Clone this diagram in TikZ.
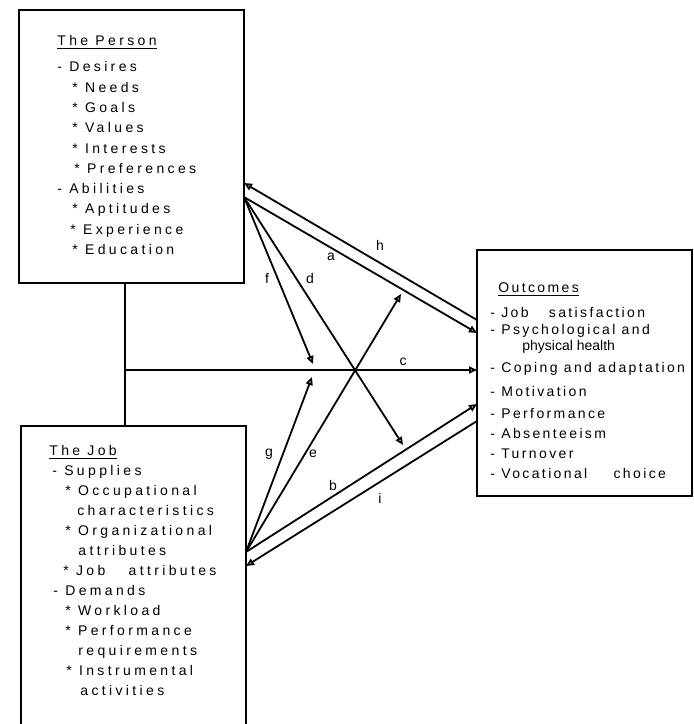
\documentclass[tikz,border=0pt]{standalone}
\usepackage{fontspec}
\setmainfont{Liberation Sans}
\newfontfamily\widefont[LetterSpace=24]{Liberation Sans}
\newfontfamily\outfont[LetterSpace=17]{Liberation Sans}
\usetikzlibrary{arrows.meta}

\begin{document}
\begin{tikzpicture}[
    x=0.5pt, y=-0.5pt,
    >={Triangle[open, length=4pt, width=3.5pt]},
    box/.style={draw, line width=1pt, inner sep=0pt, outer sep=0pt},
    txt/.style={anchor=north west, inner sep=0pt, align=left},
    lbl/.style={inner sep=0pt, font=\fontsize{7}{8}\selectfont},
    arr/.style={->, line width=0.9pt}
  ]
  \useasboundingbox (0,0) rectangle (694,724);

  % the three boxes
  \node[box, minimum width=112.5pt, minimum height=136.5pt] (person) at (131.5,146.5) {};
  \node[box, minimum width=112.5pt, minimum height=157pt] (job) at (133.5,583) {};
  \node[box, minimum width=107.5pt, minimum height=123pt] (outcomes) at (584.5,373) {};

  \node[txt, font=\widefont\fontsize{7}{10.15}\selectfont] (persontext) at (57,35) {%
    \underline{The Person}\\[3pt]
    - Desires\\
    \hspace*{7.5pt}* Needs\\
    \hspace*{7.5pt}* Goals\\
    \hspace*{7.5pt}* Values\\
    \hspace*{7.5pt}* Interests\\
    \hspace*{8.5pt}* Preferences\\
    - Abilities\\
    \hspace*{7.5pt}* Aptitudes\\
    \hspace*{6.5pt}* Experience\\
    \hspace*{7.5pt}* Education};

  \node[txt, font=\widefont\fontsize{7}{10}\selectfont] (jobtext) at (49,445) {%
    \underline{The Job}\\
    \hspace*{1.5pt}- Supplies\\
    \hspace*{8pt}* Occupational\\
    \hspace*{14pt}characteristics\\
    \hspace*{8pt}* Organizational\\
    \hspace*{14.5pt}attributes\\
    \hspace*{7pt}* Job\hspace{8pt} attributes\\
    \hspace*{2pt}- Demands\\
    \hspace*{8pt}* Workload\\
    \hspace*{8pt}* Performance\\
    \hspace*{14.5pt}requirements\\
    \hspace*{8.5pt}* Instrumental\\
    \hspace*{15.5pt}activities};

  \node[txt, font=\outfont\fontsize{7}{10}\selectfont] (outtext) at (490,282) {%
    \hspace*{4pt}\underline{Outcomes}\\[2.5pt]
    - Job\hspace{7pt} satisfaction\\[-1.5pt]
    - Psychological and\\[-2pt]
    \hspace*{16pt}{\normalfont physical health}\\[1pt]
    - Coping and adaptation\\[2pt]
    - Motivation\\[1pt]
    - Performance\\
    - Absenteeism\\
    - Turnover\\
    - Vocational\hspace{10pt} choice};

  % end points on the box edges
  \coordinate (pbot) at (125,283);
  \coordinate (jtop) at (125,426);
  \coordinate (cfrom) at (125,370);
  \coordinate (pfrom) at (244,197);
  \coordinate (pin) at (244,183);
  \coordinate (jfrom) at (246,552);
  \coordinate (jin) at (246,566);
  \coordinate (ohout) at (477,320);
  \coordinate (oain) at (477,333);
  \coordinate (ocin) at (477,370);
  \coordinate (obin) at (477,404);
  \coordinate (oiout) at (477,421);
  \coordinate (fend) at (313,364);
  \coordinate (gend) at (312,377);
  \coordinate (dend) at (403,445);
  \coordinate (eend) at (401,294);

  \draw[line width=0.9pt] (pbot) -- (jtop);
  \draw[arr] (cfrom) -- (ocin);
  \draw[arr] (ohout) -- (pin);
  \draw[arr] (pfrom) -- (oain);
  \draw[arr] (pfrom) -- (fend);
  \draw[arr] (pfrom) -- (dend);
  \draw[arr] (jfrom) -- (gend);
  \draw[arr] (jfrom) -- (eend);
  \draw[arr] (jfrom) -- (obin);
  \draw[arr] (oiout) -- (jin);

  % path labels
  \node[lbl] (lh) at (380,245) {h};
  \node[lbl] (la) at (331,257) {a};
  \node[lbl] (lf) at (267,278) {f};
  \node[lbl] (ld) at (310,278) {d};
  \node[lbl] (lc) at (403,362) {c};
  \node[lbl] (lg) at (269,454) {g};
  \node[lbl] (le) at (313,454) {e};
  \node[lbl] (lb) at (333,485) {b};
  \node[lbl] (li) at (380,498) {i};
\end{tikzpicture}
\end{document}
